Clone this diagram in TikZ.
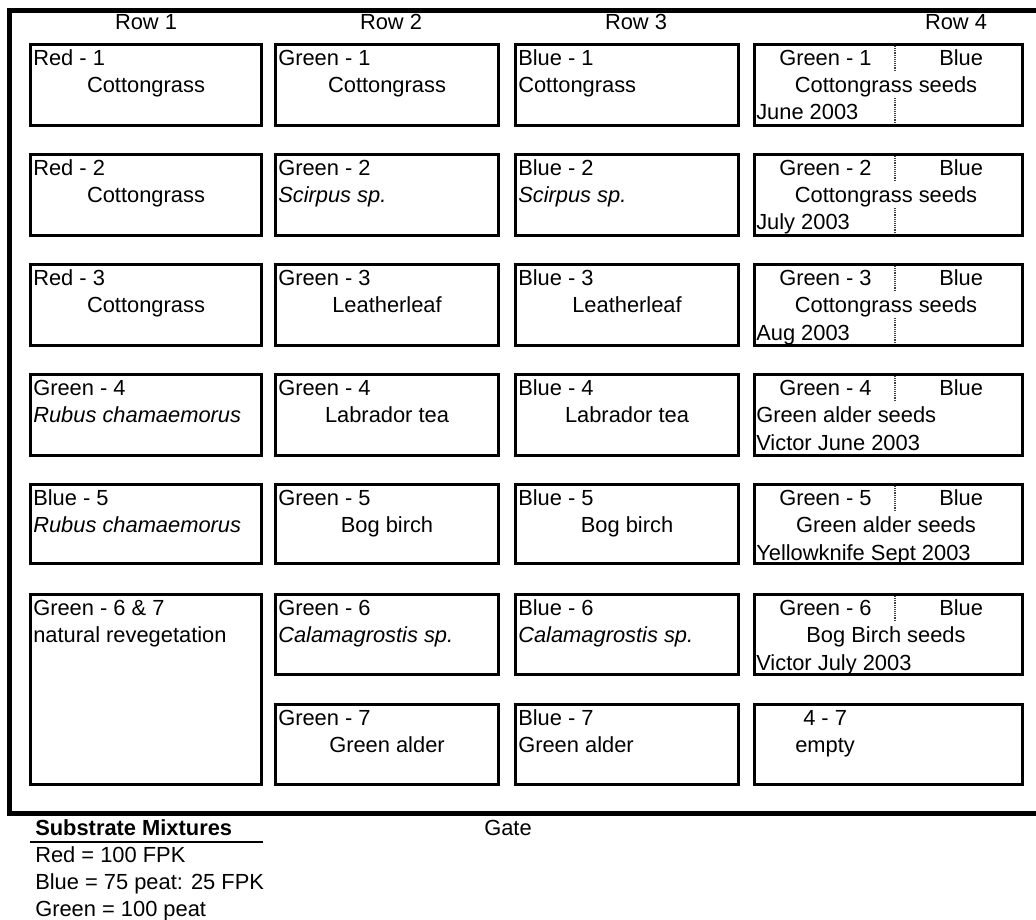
\documentclass[tikz,border=0pt]{standalone}
\usepackage{fontspec}
\setmainfont{Liberation Sans}
\begin{document}
\begin{tikzpicture}[x=0.75pt,y=-0.75pt,
  boxline/.style={line width=2.25pt, draw=black},
  frameline/.style={line width=3.75pt, draw=black},
  sepline/.style={line width=1.2pt, draw=black!75, dash pattern=on 0.7pt off 0.7pt},
  txt/.style={inner sep=0pt, font=\fontsize{16.4pt}{19pt}\selectfont},
  lt/.style={txt, anchor=base west},
  ct/.style={txt, anchor=base},
  it/.style={txt, anchor=base west, font=\fontsize{16.4pt}{19pt}\selectfont\itshape}]
\useasboundingbox (0,0) rectangle (1036,920);
\fill[white] (0,0) rectangle (1036,920);
% outer frame
\coordinate (ftr) at (1036,11);
\coordinate (ftl) at (9.5,11);
\coordinate (fbl) at (9.5,813);
\coordinate (fbr) at (1036,813);
\draw[frameline] (ftr) -- (ftl) -- (fbl) -- (fbr);
% column (outer) edges: A 29-263, B 274-500, C 514-740, D 753-1024
\newcommand\bx[4]{\draw[boxline] (#1+1.5,#3+1.5) rectangle (#2-1.5,#4-1.5);}
% row labels
\node[ct] (row1) at (146,30) {Row 1};
\node[ct] (row2) at (391,30) {Row 2};
\node[ct] (row3) at (636,30) {Row 3};
\node[ct] (row4) at (956,30) {Row 4};
% ---------- Row 1 column
\bx{29}{263}{43}{127}
\node[lt] (a1a) at (33,65.5) {Red - 1};
\node[ct] (a1b) at (146,92.5) {Cottongrass};
\bx{29}{263}{153}{237}
\node[lt] (a2a) at (33,175.5) {Red - 2};
\node[ct] (a2b) at (146,202.5) {Cottongrass};
\bx{29}{263}{263}{347}
\node[lt] (a3a) at (33,285.5) {Red - 3};
\node[ct] (a3b) at (146,312.5) {Cottongrass};
\bx{29}{263}{373}{457}
\node[lt] (a4a) at (33,395.5) {Green - 4};
\node[it] (a4b) at (33,422.5) {Rubus chamaemorus};
\bx{29}{263}{483}{565}
\node[lt] (a5a) at (33,505.5) {Blue - 5};
\node[it] (a5b) at (33,532.5) {Rubus chamaemorus};
\bx{29}{263}{593}{786}
\node[lt] (a6a) at (33,615.5) {Green - 6 \& 7};
\node[lt] (a6b) at (33,642.5) {natural revegetation};
% ---------- Row 2 column
\bx{274}{500}{43}{127}
\node[lt] (b1a) at (278,65.5) {Green - 1};
\node[ct] (b1b) at (387,92.5) {Cottongrass};
\bx{274}{500}{153}{237}
\node[lt] (b2a) at (278,175.5) {Green - 2};
\node[it] (b2b) at (278,202.5) {Scirpus sp.};
\bx{274}{500}{263}{347}
\node[lt] (b3a) at (278,285.5) {Green - 3};
\node[ct] (b3b) at (387,312.5) {Leatherleaf};
\bx{274}{500}{373}{457}
\node[lt] (b4a) at (278,395.5) {Green - 4};
\node[ct] (b4b) at (387,422.5) {Labrador tea};
\bx{274}{500}{483}{565}
\node[lt] (b5a) at (278,505.5) {Green - 5};
\node[ct] (b5b) at (387,532.5) {Bog birch};
\bx{274}{500}{593}{676}
\node[lt] (b6a) at (278,615.5) {Green - 6};
\node[it] (b6b) at (278,642.5) {Calamagrostis sp.};
\bx{274}{500}{703}{786}
\node[lt] (b7a) at (278,725.5) {Green - 7};
\node[ct] (b7b) at (387,752.5) {Green alder};
% ---------- Row 3 column
\bx{514}{740}{43}{127}
\node[lt] (c1a) at (518,65.5) {Blue - 1};
\node[lt] (c1b) at (518,92.5) {Cottongrass};
\bx{514}{740}{153}{237}
\node[lt] (c2a) at (518,175.5) {Blue - 2};
\node[it] (c2b) at (518,202.5) {Scirpus sp.};
\bx{514}{740}{263}{347}
\node[lt] (c3a) at (518,285.5) {Blue - 3};
\node[ct] (c3b) at (627,312.5) {Leatherleaf};
\bx{514}{740}{373}{457}
\node[lt] (c4a) at (518,395.5) {Blue - 4};
\node[ct] (c4b) at (627,422.5) {Labrador tea};
\bx{514}{740}{483}{565}
\node[lt] (c5a) at (518,505.5) {Blue - 5};
\node[ct] (c5b) at (627,532.5) {Bog birch};
\bx{514}{740}{593}{676}
\node[lt] (c6a) at (518,615.5) {Blue - 6};
\node[it] (c6b) at (518,642.5) {Calamagrostis sp.};
\bx{514}{740}{703}{786}
\node[lt] (c7a) at (518,725.5) {Blue - 7};
\node[lt] (c7b) at (518,752.5) {Green alder};
% ---------- Row 4 column
% row 1
\bx{753}{1024}{43}{127}
\node[lt] (d1a) at (779,65.5) {Green - 1};
\node[lt] (d1c) at (939,65.5) {Blue};
\node[ct] (d1b) at (886,92.5) {Cottongrass seeds};
\node[lt] (d1d) at (756,120) {June 2003};
\coordinate (s1a) at (895,46); \coordinate (s1b) at (895,72);
\coordinate (s1c) at (895,98); \coordinate (s1d) at (895,124);
\draw[sepline] (s1a) -- (s1b); \draw[sepline] (s1c) -- (s1d);
% row 2
\bx{753}{1024}{153}{237}
\node[lt] (d2a) at (779,175.5) {Green - 2};
\node[lt] (d2c) at (939,175.5) {Blue};
\node[ct] (d2b) at (886,202.5) {Cottongrass seeds};
\node[lt] (d2d) at (756,230) {July 2003};
\coordinate (s2a) at (895,156); \coordinate (s2b) at (895,182);
\coordinate (s2c) at (895,208); \coordinate (s2d) at (895,234);
\draw[sepline] (s2a) -- (s2b); \draw[sepline] (s2c) -- (s2d);
% row 3
\bx{753}{1024}{263}{347}
\node[lt] (d3a) at (779,285.5) {Green - 3};
\node[lt] (d3c) at (939,285.5) {Blue};
\node[ct] (d3b) at (886,312.5) {Cottongrass seeds};
\node[lt] (d3d) at (756,340) {Aug 2003};
\coordinate (s3a) at (895,266); \coordinate (s3b) at (895,292);
\coordinate (s3c) at (895,318); \coordinate (s3d) at (895,344);
\draw[sepline] (s3a) -- (s3b); \draw[sepline] (s3c) -- (s3d);
% row 4
\bx{753}{1024}{373}{457}
\node[lt] (d4a) at (779,395.5) {Green - 4};
\node[lt] (d4c) at (939,395.5) {Blue};
\node[lt] (d4b) at (756,422.5) {Green alder seeds};
\node[lt] (d4d) at (756,450) {Victor June 2003};
\coordinate (s4a) at (895,376); \coordinate (s4b) at (895,402);
\draw[sepline] (s4a) -- (s4b);
% row 5
\bx{753}{1024}{483}{565}
\node[lt] (d5a) at (779,505.5) {Green - 5};
\node[lt] (d5c) at (939,505.5) {Blue};
\node[ct] (d5b) at (886,532.5) {Green alder seeds};
\node[lt] (d5d) at (756,560) {Yellowknife Sept 2003};
\coordinate (s5a) at (895,486); \coordinate (s5b) at (895,512);
\draw[sepline] (s5a) -- (s5b);
% row 6
\bx{753}{1024}{593}{676}
\node[lt] (d6a) at (779,615.5) {Green - 6};
\node[lt] (d6c) at (939,615.5) {Blue};
\node[ct] (d6b) at (886,642.5) {Bog Birch seeds};
\node[lt] (d6d) at (756,670) {Victor July 2003};
\coordinate (s6a) at (895,596); \coordinate (s6b) at (895,622);
\draw[sepline] (s6a) -- (s6b);
% row 7
\bx{753}{1024}{703}{786}
\node[lt] (d7a) at (803,725.5) {4 - 7};
\node[lt] (d7b) at (795,752.5) {empty};
% ---------- legend
\node[lt, font=\fontsize{16.4pt}{19pt}\selectfont\bfseries] (leg) at (35,835) {Substrate Mixtures};
\coordinate (ul1) at (30,842); \coordinate (ul2) at (263,842);
\draw[line width=1.5pt] (ul1) -- (ul2);
\node[lt] (leg1) at (35,862) {Red = 100 FPK};
\node[lt] (leg2) at (35,889) {Blue = 75 peat: 25 FPK};
\node[lt] (leg3) at (35,916) {Green = 100 peat};
\node[ct] (gate) at (508,835) {Gate};
\end{tikzpicture}
\end{document}
